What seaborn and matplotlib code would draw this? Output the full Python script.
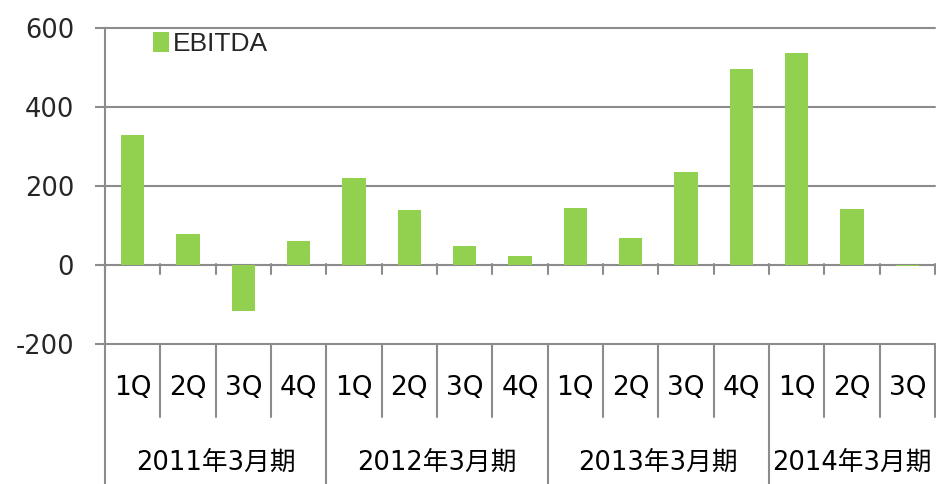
import matplotlib
matplotlib.use("Agg")
import matplotlib.pyplot as plt
import matplotlib.transforms as mtransforms
import seaborn as sns
import pandas as pd

quarters = ["1Q", "2Q", "3Q", "4Q", "1Q", "2Q", "3Q", "4Q", "1Q", "2Q", "3Q", "4Q", "1Q", "2Q", "3Q"]
years = ["2011年3月期", "2012年3月期", "2013年3月期", "2014年3月期"]
year_counts = [4, 4, 4, 3]
ebitda = [330, 80, -117, 60, 222, 140, 48, 24, 146, 68, 235, 497, 538, 143, -3]
series_name = "EBITDA"
yticks = [-200, 0, 200, 400, 600]

sns.set_theme(style="white")
plt.rcParams['font.family'] = ['DejaVu Sans', 'Noto Sans CJK JP']

W, H = 936, 484
fig = plt.figure(figsize=(W / 100, H / 100), dpi=100)
ax = fig.add_axes([105 / W, (H - 344) / H, (935 - 105) / W, (344 - 28.5) / H])

df = pd.DataFrame({"idx": [str(i) for i in range(len(ebitda))], "v": ebitda})
sns.barplot(data=df, x="idx", y="v", color="#92D050", saturation=1, width=0.42,
            ax=ax, label=series_name, zorder=2, linewidth=0, edgecolor="none")

grid_c = "#8C8C8C"
ax.set_xlim(-0.5, len(ebitda) - 0.5)
ax.set_ylim(-200, 600)
ax.set_yticks(yticks)
ax.set_yticklabels([str(t) for t in yticks], fontsize=18.5)
for t in yticks:
    ax.axhline(t, color=grid_c, linewidth=1.5, zorder=1, clip_on=False)
ax.tick_params(axis="y", length=7.2, width=1.5, color=grid_c, pad=15, left=True)
ax.set_xticks([])
ax.set_xlabel("")
ax.set_ylabel("")
for s in ["top", "right", "bottom"]:
    ax.spines[s].set_visible(False)
ax.spines["left"].set_color(grid_c)
ax.spines["left"].set_linewidth(1.5)

# transform: x in data, y in figure pixels from top
pix = mtransforms.Affine2D().scale(1 / W, -1 / H).translate(0, 1) + fig.transFigure
trans = mtransforms.blended_transform_factory(ax.transData, pix)

n = len(ebitda)
# small ticks below zero line
for i in range(n + 1):
    x = i - 0.5
    ax.plot([x, x], [264, 274], transform=trans, color=grid_c, lw=1.5, clip_on=False)

year_bounds = [-0.5]
acc = -0.5
for c in year_counts:
    acc += c
    year_bounds.append(acc)
for i in range(n + 1):
    x = i - 0.5
    bottom = 484 if (x in year_bounds[:-1]) else 417
    ax.plot([x, x], [344, bottom], transform=trans, color=grid_c, lw=1.5, clip_on=False)
for i, q in enumerate(quarters):
    ax.text(i, 388, q, transform=trans, ha="center", va="center", fontsize=19, color="black")

start = 0
for y, c in zip(years, year_counts):
    center = start + (c - 1) / 2
    ax.text(center, 463, y, transform=trans, ha="center", va="center", fontsize=18.5,
            color="black", family=['DejaVu Sans', 'Noto Sans CJK JP'])
    start += c

leg = ax.legend(loc="upper left", bbox_to_anchor=(0.042, 1.03), frameon=False,
                handlelength=0.6, handleheight=0.75, handletextpad=0.15,
                prop={"family": "Liberation Sans", "size": 19}, borderaxespad=0.1)

fig.savefig("out.png", dpi=100)
